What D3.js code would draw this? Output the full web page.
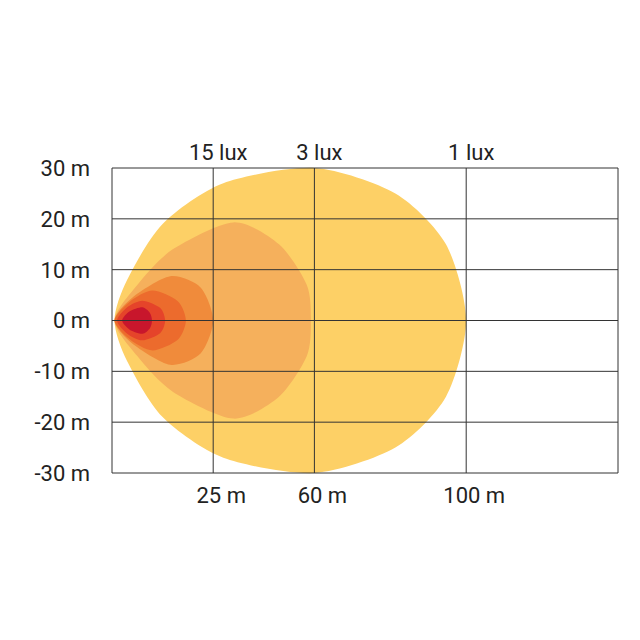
<!DOCTYPE html>
<html><head><meta charset="utf-8">
<script src="https://cdn.jsdelivr.net/npm/d3@7"></script>
<style>body{margin:0;background:#fff}text{font-family:Roboto,sans-serif;font-size:22px;fill:#222}</style>
</head><body>
<svg id="c" width="640" height="640"></svg>
<script>
// x in grid units (0..10), y in metres
const xGrid = [0, 2, 4, 7, 10];
const yTicks = [30, 20, 10, 0, -10, -20, -30];
const bottomLabels = [[2, "25 m"], [4, "60 m"], [7, "100 m"]];
const topLabels = [[2, "15 lux"], [4, "3 lux"], [7, "1 lux"]];
// upper half outlines of each isolux zone (mirrored below)
const zones = [
  {color: "#fdd066", pts: [[0.05,0],[0.3,8],[1,19],[2.2,27],[4,30],[5.6,25],[6.6,15],[7,0]]},
  {color: "#f5b05c", pts: [[0.05,0],[0.5,7],[1.2,14],[2.4,19.3],[3.3,15],[3.85,7],[3.93,0]]},
  {color: "#f08b3b", pts: [[0.05,0],[0.4,4.5],[1.15,8.7],[1.75,6.5],[2,0]]},
  {color: "#ec6b2d", pts: [[0.05,0],[0.35,3.7],[0.8,5.9],[1.3,3.8],[1.46,0]]},
  {color: "#e5442a", pts: [[0.1,0],[0.3,2.6],[0.6,3.9],[0.95,2.5],[1.05,0]]},
  {color: "#c8162c", pts: [[0.2,0],[0.35,1.8],[0.6,2.6],[0.75,1.5],[0.79,0]]}
];

const svg = d3.select("#c");
const x = d3.scaleLinear().domain([0, 10]).range([112, 618]);
const y = d3.scaleLinear().domain([-30, 30]).range([473, 168]);

const shape = d3.line().x(d => x(d[0])).y(d => y(d[1])).curve(d3.curveCardinalClosed.tension(0.2));

zones.forEach(z => {
  const up = z.pts;
  const down = up.slice(1, -1).reverse().map(p => [p[0], -p[1]]);
  svg.append("path").attr("d", shape(up.concat(down))).attr("fill", z.color);
});

svg.append("g").selectAll("line").data(xGrid).join("line")
  .attr("x1", d => x(d)).attr("x2", d => x(d)).attr("y1", y(30)).attr("y2", y(-30))
  .attr("stroke", "#333").attr("stroke-width", 1);
svg.append("g").selectAll("line").data(yTicks).join("line")
  .attr("x1", x(0)).attr("x2", x(10)).attr("y1", d => y(d)).attr("y2", d => y(d))
  .attr("stroke", "#333").attr("stroke-width", 1);

svg.append("g").selectAll("text").data(yTicks).join("text")
  .attr("x", 90).attr("y", d => y(d)).attr("dy", "0.36em").attr("text-anchor", "end")
  .text(d => d + " m");
svg.append("g").selectAll("text").data(bottomLabels).join("text")
  .attr("x", d => x(d[0]) + 8).attr("y", 503).attr("text-anchor", "middle").text(d => d[1]);
svg.append("g").selectAll("text").data(topLabels).join("text")
  .attr("x", d => x(d[0]) + 5).attr("y", 160).attr("text-anchor", "middle").text(d => d[1]);
</script>
</body></html>
